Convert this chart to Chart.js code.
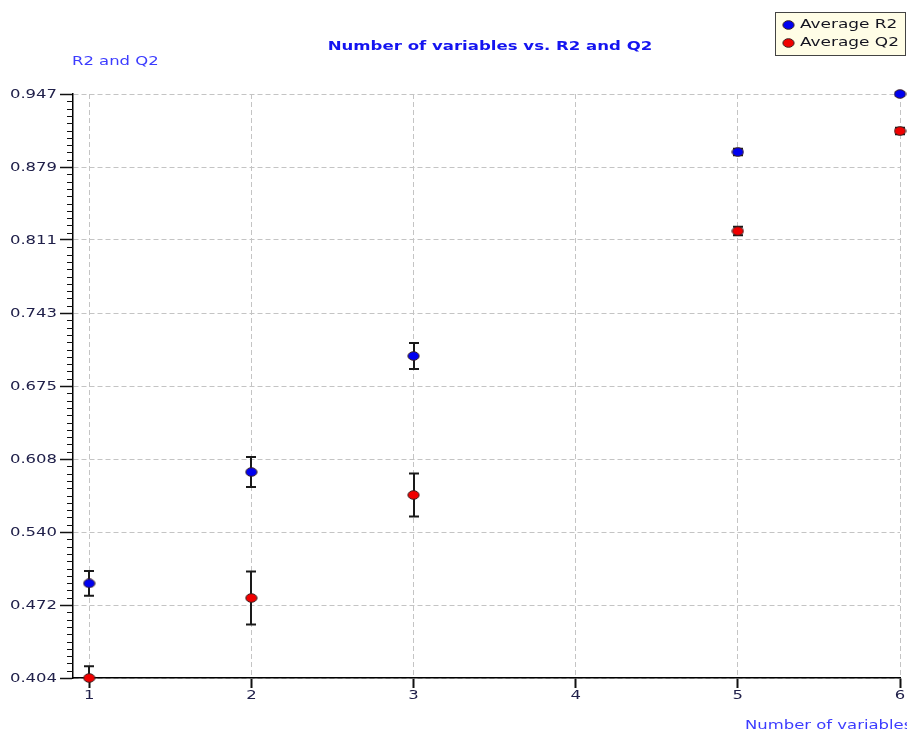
<!DOCTYPE html>
<html><head><meta charset="utf-8">
<script src="https://cdn.jsdelivr.net/npm/chart.js@4.4.0/dist/chart.umd.min.js"></script>
<style>html,body{margin:0;padding:0;background:#fff;} #wrap{width:907px;height:731px;position:relative}</style>
</head><body><div id="wrap"><canvas id="c" width="907" height="731"></canvas></div>
<script>
// ---- data ----
const categories = [1, 2, 3, 5, 6];
const r2Values = [0.492, 0.5955, 0.7034, 0.8931, 0.947];
const r2Errors = [0.0115, 0.014, 0.012, 0.003, 0.0015];
const q2Values = [0.404, 0.4784, 0.5742, 0.8196, 0.9126];
const q2Errors = [0.011, 0.0247, 0.020, 0.004, 0.003];
const yTickLabels = ['0.404','0.472','0.540','0.608','0.675','0.743','0.811','0.879','0.947'];
const xTickLabels = ['1','2','3','4','5','6'];
const seriesNames = ['Average R2', 'Average Q2'];
const chartTitle = 'Number of variables vs. R2 and Q2';
const yTitle = 'R2 and Q2';
const xTitle = 'Number of variables';
const yMin = 0.404, yMax = 0.947;
const xMin = 0.9, xMax = 6;

const HS = 1.37; // horizontal text stretch
const FONT = '12px "DejaVu Sans"';
const TICKCOL = '#20204a';
const BLUE = '#0000f0', RED = '#f00000';

function makePt(fill){
  const c = document.createElement('canvas'); c.width = 13; c.height = 10;
  const g = c.getContext('2d');
  g.beginPath(); g.ellipse(6.5, 5, 5.6, 4.3, 0, 0, Math.PI*2);
  g.fillStyle = fill; g.fill(); g.lineWidth = 1; g.strokeStyle = '#3a2020'; g.stroke();
  return c;
}
const ptBlue = makePt(BLUE), ptRed = makePt(RED);

function sText(ctx, txt, x, y, font, color, align, hs){
  ctx.save(); ctx.font = font; ctx.fillStyle = color; ctx.textBaseline = 'middle';
  const w = ctx.measureText(txt).width * hs;
  const left = align === 'right' ? x - w : align === 'center' ? x - w/2 : x;
  ctx.translate(left, y); ctx.scale(hs, 1); ctx.textAlign = 'left'; ctx.fillText(txt, 0, 0);
  ctx.restore();
}

const errors = [r2Errors, q2Errors];

const decor = {
  id: 'decor',
  beforeDatasetsDraw(chart){
    const ctx = chart.ctx, xs = chart.scales.x, ys = chart.scales.y;
    const area = chart.chartArea;
    ctx.save();
    ctx.beginPath(); ctx.rect(area.left, area.top - 10, area.right - area.left + 10, area.bottom - area.top + 10); ctx.clip();
    ctx.strokeStyle = '#1a1a1a'; ctx.lineWidth = 2;
    chart.data.datasets.forEach((ds, di) => {
      ds.data.forEach((p, i) => {
        const e = errors[di][i];
        const px = Math.round(xs.getPixelForValue(p.x));
        const t = ys.getPixelForValue(p.y + e), b = ys.getPixelForValue(p.y - e);
        ctx.beginPath();
        ctx.moveTo(px, t); ctx.lineTo(px, b);
        ctx.moveTo(px - 5, t); ctx.lineTo(px + 5, t);
        ctx.moveTo(px - 5, b); ctx.lineTo(px + 5, b);
        ctx.stroke();
      });
    });
    ctx.restore();
  },
  afterDraw(chart){
    const ctx = chart.ctx, xs = chart.scales.x, ys = chart.scales.y;
    const area = chart.chartArea;
    // minor ticks
    ctx.save(); ctx.strokeStyle = '#111'; ctx.lineWidth = 1;
    const n = yTickLabels.length - 1, step = (yMax - yMin) / n;
    for (let i = 0; i < n; i++){
      for (let k = 1; k < 10; k++){
        const py = Math.round(ys.getPixelForValue(yMin + step*i + step*k/10)) + 0.5;
        ctx.beginPath(); ctx.moveTo(area.left - 6, py); ctx.lineTo(area.left, py); ctx.stroke();
      }
    }
    ctx.restore();
    // tick labels
    yTickLabels.forEach((lab, i) => {
      const py = ys.getPixelForValue(yMin + step*i);
      sText(ctx, lab, area.left - 16, py + 1, FONT, TICKCOL, 'right', HS);
    });
    xTickLabels.forEach((lab) => {
      const px = xs.getPixelForValue(Number(lab));
      sText(ctx, lab, px, area.bottom + 18, FONT, TICKCOL, 'center', HS);
    });
    // titles
    sText(ctx, chartTitle, 490, 47, 'bold 12px "DejaVu Sans"', '#1414f0', 'center', 1.38);
    sText(ctx, yTitle, 72, 62, FONT, '#3c3cff', 'left', HS);
    sText(ctx, xTitle, 745, 726, FONT, '#3c3cff', 'left', HS);
    // legend
    ctx.save();
    ctx.fillStyle = '#fffde6'; ctx.fillRect(775.5, 12.5, 130, 43);
    ctx.strokeStyle = '#444'; ctx.lineWidth = 1; ctx.strokeRect(775.5, 12.5, 130, 43);
    ctx.restore();
    ctx.drawImage(ptBlue, 782, 20);
    ctx.drawImage(ptRed, 782, 38);
    sText(ctx, seriesNames[0], 800, 25, FONT, '#141420', 'left', HS + 0.04);
    sText(ctx, seriesNames[1], 800, 43, FONT, '#141420', 'left', HS + 0.04);
  }
};

const ctx = document.getElementById('c').getContext('2d');
new Chart(ctx, {
  type: 'scatter',
  data: {
    datasets: [
      { label: seriesNames[0], data: categories.map((c, i) => ({x: c, y: r2Values[i]})),
        pointStyle: ptBlue, clip: false },
      { label: seriesNames[1], data: categories.map((c, i) => ({x: c, y: q2Values[i]})),
        pointStyle: ptRed, clip: false }
    ]
  },
  options: {
    responsive: false, animation: false,
    layout: { padding: { top: 94, right: 7, left: 0, bottom: 0 } },
    plugins: { legend: { display: false }, tooltip: { enabled: false }, title: { display: false } },
    scales: {
      x: {
        type: 'linear', min: xMin, max: xMax,
        afterBuildTicks(s){ s.ticks = xTickLabels.map(v => ({ value: Number(v) })); },
        afterFit(s){ s.height = 53; },
        ticks: { display: false },
        border: { display: true, color: '#000', width: 1.5, dash: [5, 3] },
        grid: { color: '#c4c4c4', lineWidth: 1, tickLength: 10, tickColor: '#111', tickWidth: 2,
                tickBorderDash: [] },
        title: { display: false }
      },
      y: {
        type: 'linear', min: yMin, max: yMax,
        afterBuildTicks(s){ s.ticks = yTickLabels.map((v, i) => ({ value: yMin + i*(yMax - yMin)/(yTickLabels.length - 1) })); },
        afterFit(s){ s.width = 73; },
        ticks: { display: false },
        border: { display: true, color: '#000', width: 1.5, dash: [5, 3] },
        grid: { color: '#c4c4c4', lineWidth: 1, tickLength: 13, tickColor: '#111', tickWidth: 1.5,
                tickBorderDash: [] },
        title: { display: false }
      }
    },
    elements: { point: { radius: 5 } }
  },
  plugins: [decor]
});
</script></body></html>
